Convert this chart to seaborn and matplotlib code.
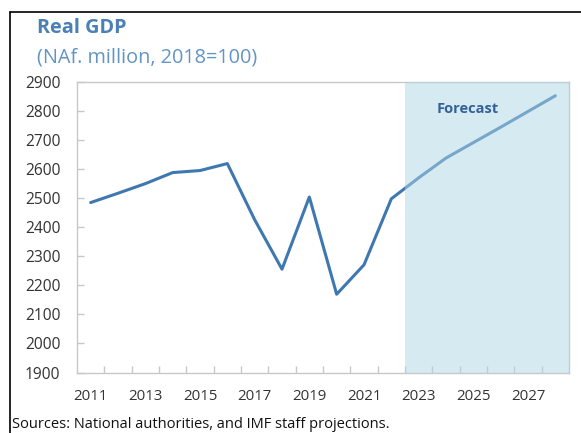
import matplotlib
matplotlib.use("Agg")
import matplotlib.pyplot as plt
from matplotlib.lines import Line2D
import seaborn as sns
import pandas as pd

years = list(range(2011, 2029))
gdp = [2484, 2516, 2549, 2587, 2594, 2618, 2425, 2255, 2503, 2169, 2270, 2497,
       2569, 2637, 2690, 2743, 2797, 2851]
forecast_start = 2023
y_ticks = list(range(1900, 3000, 100))
x_labels = [2011, 2013, 2015, 2017, 2019, 2021, 2023, 2025, 2027]

df = pd.DataFrame({"year": years, "gdp": gdp})

sns.set_theme(style="white")
plt.rcParams["font.family"] = ["Open Sans", "DejaVu Sans"]

fig = plt.figure(figsize=(5.81, 4.33), dpi=100)
ax = fig.add_axes([77 / 581, 1 - 372.5 / 433, (569 - 77) / 581, (372.5 - 81.5) / 433])

line_color = "#3f78b0"
sns.lineplot(data=df, x="year", y="gdp", ax=ax, color=line_color, linewidth=2.2, zorder=2)

# projection period shading, laid over the line
ax.axvspan(forecast_start - 0.5, years[-1] + 0.5, color="#aed6e6", alpha=0.5,
           lw=0, zorder=3)
ax.text(2024.8, 2806, "Forecast", fontsize=10.5, fontweight="bold", color="#33629a",
        ha="center", va="center", zorder=4)

ax.set_xlim(years[0] - 0.5, years[-1] + 0.5)
ax.set_ylim(y_ticks[0], y_ticks[-1])
ax.set_yticks(y_ticks)
ax.set_yticklabels([str(v) for v in y_ticks])
ax.set_xticks(x_labels)
ax.set_xticklabels([str(v) for v in x_labels])
ax.set_xticks([y + 0.5 for y in years[:-1]], minor=True)
ax.set_xlabel("")
ax.set_ylabel("")

for s in ax.spines.values():
    s.set_color("#c8c8c8")
    s.set_linewidth(1.0)

ax.tick_params(axis="x", which="major", length=0, labelsize=10.8, labelcolor="#333333", pad=12)
ax.tick_params(axis="x", which="minor", length=5, direction="in", color="#c8c8c8", width=1, bottom=True)
ax.tick_params(axis="y", which="major", length=5, direction="in", color="#c8c8c8", width=1,
               left=True, labelsize=11.2, labelcolor="#333333", pad=12)

fig.text(37 / 581, 1 - 28 / 433, "Real GDP", fontsize=14.3, fontweight="bold",
         color="#4a80b4", ha="left", va="center")
fig.text(37 / 581, 1 - 58 / 433, "(NAf. million, 2018=100)", fontsize=14.3,
         color="#6295c6", ha="left", va="center")
fig.text(12 / 581, 1 / 433, "Sources: National authorities, and IMF staff projections.",
         fontsize=10.5, color="#111111", ha="left", va="bottom")

# outer frame
fig.add_artist(Line2D([10 / 581, 10 / 581], [0, 1 - 12 / 433], color="black", lw=1.2))
fig.add_artist(Line2D([10 / 581, 1], [1 - 12 / 433, 1 - 12 / 433], color="black", lw=1.2))

fig.savefig("out.png", dpi=100, facecolor="white")
